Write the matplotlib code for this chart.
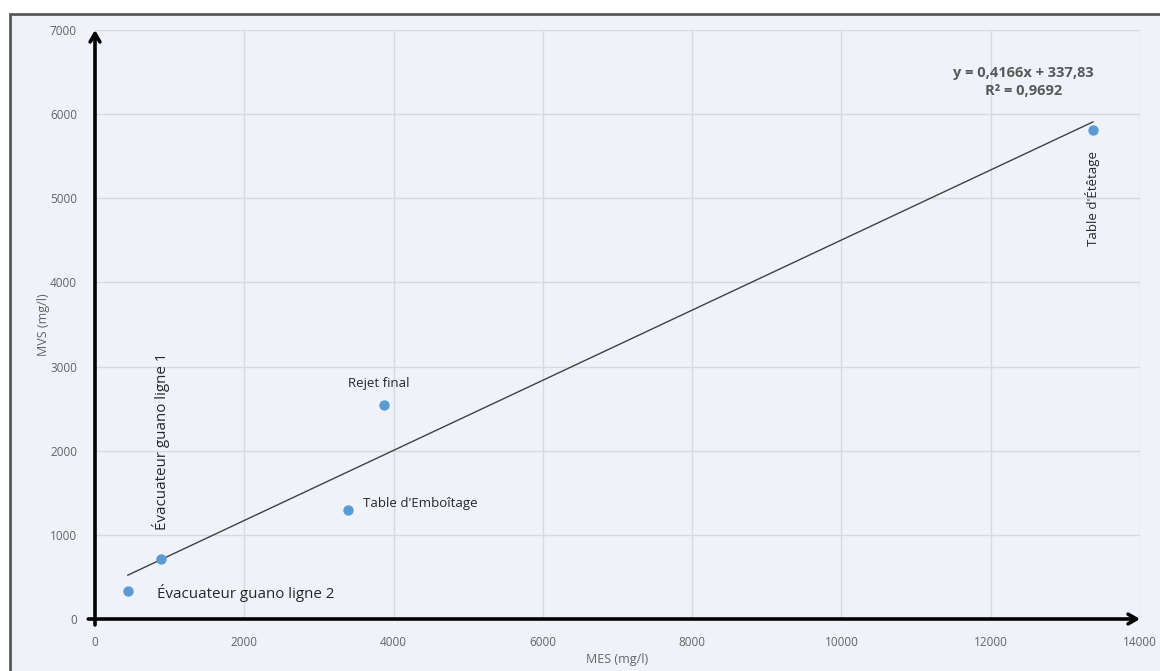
import matplotlib
matplotlib.use("Agg")
import matplotlib.pyplot as plt
from matplotlib.patches import Rectangle

plt.rcParams['font.family'] = ['Open Sans', 'DejaVu Sans']

# sampling points: MES vs MVS (mg/l)
names = ["Évacuateur guano ligne 2", "Évacuateur guano ligne 1",
         "Table d'Emboîtage", "Rejet final", "Table d'Étêtage"]
mes = [440, 885, 3390, 3870, 13370]
mvs = [335, 715, 1295, 2545, 5815]

# linear trend as given by the fit
slope = 0.4166
intercept = 337.83
r2 = 0.9692

x_ticks = [0, 2000, 4000, 6000, 8000, 10000, 12000, 14000]
y_ticks = [0, 1000, 2000, 3000, 4000, 5000, 6000, 7000]

W, H = 1160, 671
fig = plt.figure(figsize=(W / 100, H / 100), dpi=100, facecolor='white')

# chart area frame (behind the axes)
fig.patches.append(Rectangle((10 / W, -0.05), 1.1, (H - 14) / H + 0.05,
                             transform=fig.transFigure, facecolor='#eff3f9',
                             edgecolor='#595959', linewidth=2, zorder=-10))

ax = fig.add_axes([95 / W, (H - 619) / H, 1045 / W, (619 - 30) / H])
ax.set_facecolor('none')
ax.set_xlim(0, 14000)
ax.set_ylim(0, 7000)
ax.set_xticks(x_ticks)
ax.set_yticks(y_ticks)
ax.grid(True, color='#d9d9d9', linewidth=1)
ax.set_axisbelow(True)
for s in ax.spines.values():
    s.set_visible(False)
ax.tick_params(length=0, labelsize=8.5, labelcolor='#636363')
ax.tick_params(axis='y', pad=13)
ax.tick_params(axis='x', pad=12)

ax.set_xlabel("MES (mg/l)", fontsize=9, color='#636363')
ax.set_ylabel("MVS (mg/l)", fontsize=9, color='#636363')
ax.xaxis.set_label_coords(0.5, -0.058)
ax.yaxis.set_label_coords(-0.043, 0.5)

# axes drawn as arrows
arrow = dict(arrowstyle='->,head_length=0.6,head_width=0.35', color='black',
             lw=2.6, shrinkA=0, shrinkB=0)
ax.annotate("", xy=(0, 7000), xytext=(0, -70), arrowprops=arrow,
            annotation_clip=False)
ax.annotate("", xy=(14000, 0), xytext=(-90, 0), arrowprops=arrow,
            annotation_clip=False)

# trend line between the extreme points
x0, x1 = min(mes), max(mes)
ax.plot([x0, x1], [slope * x0 + intercept, slope * x1 + intercept],
        color='#404040', linewidth=1)

ax.scatter(mes, mvs, s=42, color='#5b9bd5', zorder=3, clip_on=False)

# point labels
lab = dict(color='#262626')
ax.annotate(names[0], (mes[0], mvs[0]), xytext=(21, -1.5),
            textcoords='offset points', fontsize=10.9, va='center', **lab)
ax.annotate(names[1], (mes[1], mvs[1]), xytext=(0, 21),
            textcoords='offset points', fontsize=10.9, rotation=90,
            ha='center', va='bottom', **lab)
ax.annotate(names[2], (mes[2], mvs[2]), xytext=(11, 5),
            textcoords='offset points', fontsize=9.5, va='center', **lab)
ax.annotate(names[3], (mes[3], mvs[3]), xytext=(-4, 11),
            textcoords='offset points', fontsize=9.5, ha='center',
            va='bottom', **lab)
ax.annotate(names[4], (mes[4], mvs[4]), xytext=(0, -15),
            textcoords='offset points', fontsize=9.5, rotation=90,
            ha='center', va='top', **lab)

eq = "y = {}x + {}\nR² = {}".format(str(slope).replace('.', ','),
                                    str(intercept).replace('.', ','),
                                    str(r2).replace('.', ','))
ax.text(12440, 6385, eq, fontsize=10.5, fontweight='bold', color='#595959',
        ha='center', va='center', linespacing=1.35)

fig.savefig("out.png", dpi=100, facecolor=fig.get_facecolor())
